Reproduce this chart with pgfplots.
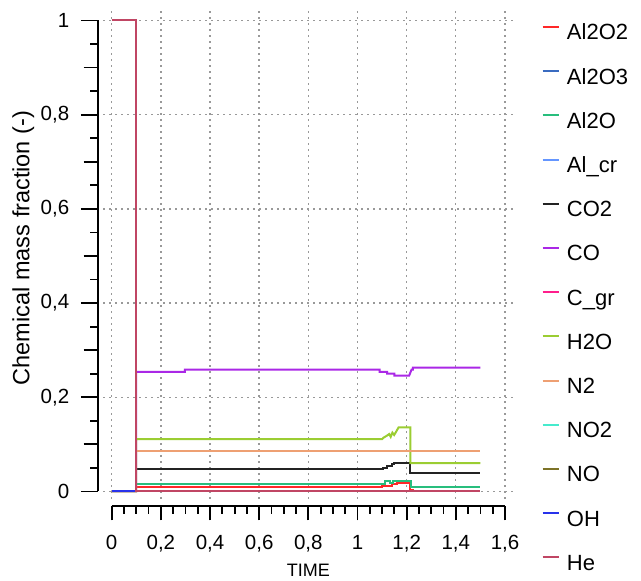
\documentclass[border=0pt]{standalone}
\usepackage{fontspec}
\setmainfont{Liberation Sans}
\usepackage{pgfplots}
\pgfplotsset{compat=1.18}
\definecolor{cAlOO}{RGB}{255,40,40}
\definecolor{cAlOOO}{RGB}{58,107,192}
\definecolor{cAlO}{RGB}{40,190,125}
\definecolor{cAlcr}{RGB}{100,150,255}
\definecolor{cCOO}{RGB}{35,35,35}
\definecolor{cCO}{RGB}{170,40,230}
\definecolor{cCgr}{RGB}{255,30,140}
\definecolor{cHHO}{RGB}{155,205,50}
\definecolor{cNN}{RGB}{238,160,115}
\definecolor{cNOO}{RGB}{70,235,205}
\definecolor{cNO}{RGB}{125,115,40}
\definecolor{cOH}{RGB}{40,50,235}
\definecolor{cHe}{RGB}{192,70,100}
\begin{document}
\begin{tikzpicture}[x=1pt,y=1pt]
\path[use as bounding box] (0,0) rectangle (641,581);
% grid-only axis (grid extends a little beyond the data range)
\begin{axis}[
  at={(103.1pt,82.4pt)}, anchor=south west,
  scale only axis, width=412.9pt, height=488pt,
  xmin=-0.035, xmax=1.645, ymin=-0.015, ymax=1.021,
  xtick={0,0.2,0.4,0.6,0.8,1,1.2,1.4,1.6},
  ytick={0,0.2,0.4,0.6,0.8,1},
  xticklabels={}, yticklabels={},
  axis line style={draw=none}, tick style={draw=none},
  grid=major,
  major grid style={draw=black!40, line width=1.4pt, line cap=butt, dash pattern=on 1.4pt off 4.6pt},
]
\end{axis}
\begin{axis}[
  at={(111.7pt,89.5pt)}, anchor=south west,
  scale only axis, width=393.3pt, height=471pt,
  xmin=0, xmax=1.6, ymin=0, ymax=1,
  clip=false,
  axis x line=bottom, axis y line=left,
  axis x line shift=14.5pt, axis y line shift=13.5pt,
  axis line style={-, line width=1.8pt, black},
  tick align=outside,
  tick style={line width=1.8pt, black},
  major tick length=14.5pt, minor tick length=8pt,
  xtick={0,0.2,0.4,0.6,0.8,1,1.2,1.4,1.6},
  xticklabels={0,{0,2},{0,4},{0,6},{0,8},1,{1,2},{1,4},{1,6}},
  minor x tick num=3,
  ytick={0,0.1,0.2,0.3,0.4,0.5,0.6,0.7,0.8,0.9,1},
  yticklabels={0,{},{0,2},{},{0,4},{},{0,6},{},{0,8},{},1},
  minor y tick num=1,
  extra y ticks={0,0.2,0.4,0.6,0.8,1},
  extra y tick labels={},
  extra y tick style={major tick length=17.3pt},
  tick label style={font=\fontsize{20.5}{20.5}\selectfont},
  xticklabel style={yshift=-11pt},
  yticklabel style={xshift=-11pt},
  xlabel={TIME},
  xlabel style={at={(axis description cs:0.5,-0.168)}, anchor=center, font=\fontsize{18}{18}\selectfont},
  ylabel={Chemical mass fraction (-)},
  ylabel style={at={(axis description cs:-0.2248,0.517)}, anchor=center, font=\fontsize{23.5}{23.5}\selectfont},
  legend cell align=left,
  legend style={at={(axis description cs:1.0933,0.9907)}, anchor=north west,
    draw=none, fill=none, inner sep=0pt, outer sep=0pt,
    row sep=24.2pt, column sep=7.3pt,
    font=\fontsize{22}{22}\selectfont,
    nodes={inner sep=0pt, text height=15pt, text depth=5pt}},
  legend image code/.code={\draw[#1, line width=2pt] (0pt,7.9pt) -- (16pt,7.9pt);},
  every axis plot post/.append style={line width=2pt, line join=miter},
]
\addplot[cAlOO] coordinates {(0,0)(0.099,0)(0.099,0.0085)(1.10,0.0085)(1.10,0.0123)(1.139,0.0123)(1.139,0.015)(1.159,0.015)(1.159,0.0175)(1.213,0.0175)(1.213,0.004)(1.225,0.004)(1.225,0.0008)(1.5,0.0008)};
\addlegendentry{Al2O2}
\addplot[cAlOOO] coordinates {(0,0)(1.5,0)};
\addlegendentry{Al2O3}
\addplot[cAlO] coordinates {(0,0)(0.099,0)(0.099,0.0166)(1.113,0.0166)(1.113,0.0216)(1.132,0.0216)(1.132,0.018)(1.145,0.018)(1.145,0.0216)(1.218,0.0216)(1.218,0.009)(1.5,0.009)};
\addlegendentry{Al2O}
\addplot[cAlcr] coordinates {(0,0)(1.5,0)};
\addlegendentry{Al\_cr}
\addplot[cCOO] coordinates {(0,0)(0.099,0)(0.099,0.047)(1.105,0.047)(1.105,0.050)(1.12,0.050)(1.12,0.055)(1.14,0.055)(1.14,0.058)(1.15,0.058)(1.15,0.060)(1.215,0.060)(1.215,0.0386)(1.5,0.0386)};
\addlegendentry{CO2}
\addplot[cCO] coordinates {(0,0)(0.099,0)(0.099,0.254)(0.298,0.254)(0.298,0.259)(1.09,0.259)(1.09,0.254)(1.12,0.254)(1.12,0.250)(1.15,0.250)(1.15,0.246)(1.21,0.246)(1.22,0.259)(1.225,0.259)(1.225,0.263)(1.5,0.263)};
\addlegendentry{CO}
\addplot[cCgr] coordinates {(0,0)(1.5,0)};
\addlegendentry{C\_gr}
\addplot[cHHO] coordinates {(0,0)(0.099,0)(0.099,0.111)(1.10,0.111)(1.105,0.114)(1.118,0.118)(1.129,0.122)(1.135,0.116)(1.142,0.125)(1.149,0.120)(1.156,0.126)(1.167,0.136)(1.215,0.136)(1.215,0.060)(1.5,0.060)};
\addlegendentry{H2O}
\addplot[cNN] coordinates {(0,0)(0.099,0)(0.099,0.085)(1.5,0.085)};
\addlegendentry{N2}
\addplot[cNOO] coordinates {(0,0)(1.5,0)};
\addlegendentry{NO2}
\addplot[cNO] coordinates {(0,0)(1.5,0)};
\addlegendentry{NO}
\addplot[cOH] coordinates {(0,0)(1.5,0)};
\addlegendentry{OH}
\addplot[cHe] coordinates {(0,1)(0.099,1)(0.099,0)(1.5,0)};
\addlegendentry{He}
\end{axis}
\end{tikzpicture}
\end{document}
